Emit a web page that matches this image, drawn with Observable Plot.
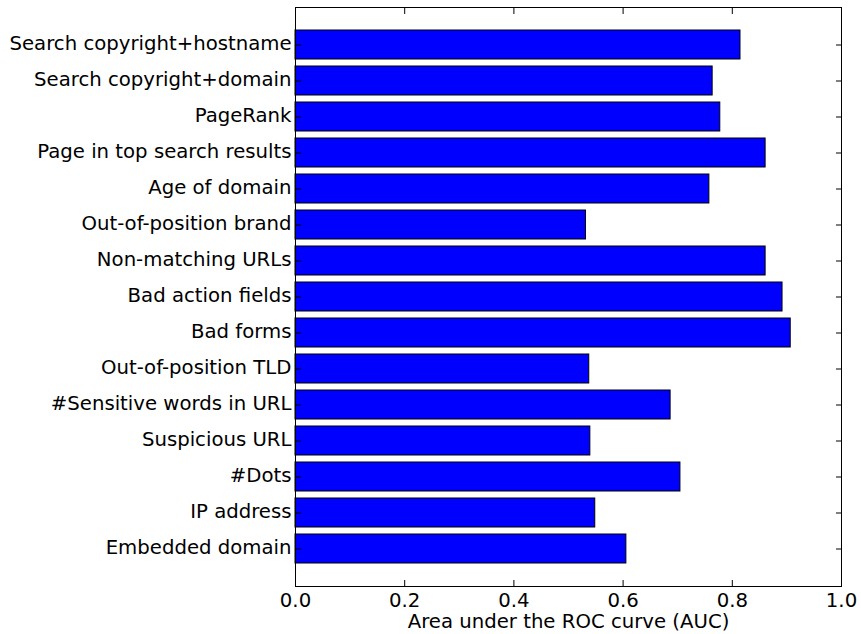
<!DOCTYPE html>
<html>
<head>
<meta charset="utf-8">
<script src="https://cdn.jsdelivr.net/npm/d3@7"></script>
<script src="https://cdn.jsdelivr.net/npm/@observablehq/plot@0.6"></script>
<style>
  html, body { margin: 0; padding: 0; background: white; }
</style>
</head>
<body>
<div id="chart"></div>
<script>
const features = [
  "Search copyright+hostname",
  "Search copyright+domain",
  "PageRank",
  "Page in top search results",
  "Age of domain",
  "Out-of-position brand",
  "Non-matching URLs",
  "Bad action fields",
  "Bad forms",
  "Out-of-position TLD",
  "#Sensitive words in URL",
  "Suspicious URL",
  "#Dots",
  "IP address",
  "Embedded domain"
];
const aucValues = [0.815, 0.764, 0.778, 0.861, 0.758, 0.532, 0.861, 0.892, 0.907, 0.538, 0.687, 0.540, 0.705, 0.549, 0.606];
const xTicks = [0, 0.2, 0.4, 0.6, 0.8, 1.0];
const xLabel = "Area under the ROC curve (AUC)";

const data = features.map((name, i) => ({name, auc: aucValues[i]}));
const fs = 19.7;

const chart = Plot.plot({
  width: 861,
  height: 634,
  marginLeft: 295,
  marginRight: 20,
  marginTop: 7,
  marginBottom: 48,
  style: {fontFamily: "DejaVu Sans", fontSize: fs + "px", color: "black", background: "white"},
  x: {domain: [0, 1]},
  y: {domain: features, paddingInner: 0.2, paddingOuter: 0.6},
  marks: [
    Plot.barX(data, {x: "auc", y: "name", fill: "#0000ff", stroke: "black", strokeWidth: 1}),
    Plot.frame({stroke: "black", strokeWidth: 1}),
    Plot.axisX({anchor: "bottom", ticks: xTicks, tickSize: 0, tickPadding: 6, fontSize: fs,
      tickFormat: d3.format(".1f"), label: xLabel, labelAnchor: "center", labelOffset: 41, labelArrow: "none"}),
    Plot.axisX({anchor: "bottom", ticks: xTicks, tickSize: -6, tickFormat: () => "", label: null}),
    Plot.axisX({anchor: "top", ticks: xTicks, tickSize: -6, tickFormat: () => "", label: null}),
    Plot.axisY({anchor: "left", tickSize: 0, tickPadding: 4, fontSize: fs, dy: -1, label: null}),
    Plot.axisY({anchor: "left", tickSize: -6, tickFormat: () => "", label: null}),
    Plot.axisY({anchor: "right", tickSize: -6, tickFormat: () => "", label: null})
  ]
});
document.getElementById("chart").appendChild(chart);
</script>
</body>
</html>
